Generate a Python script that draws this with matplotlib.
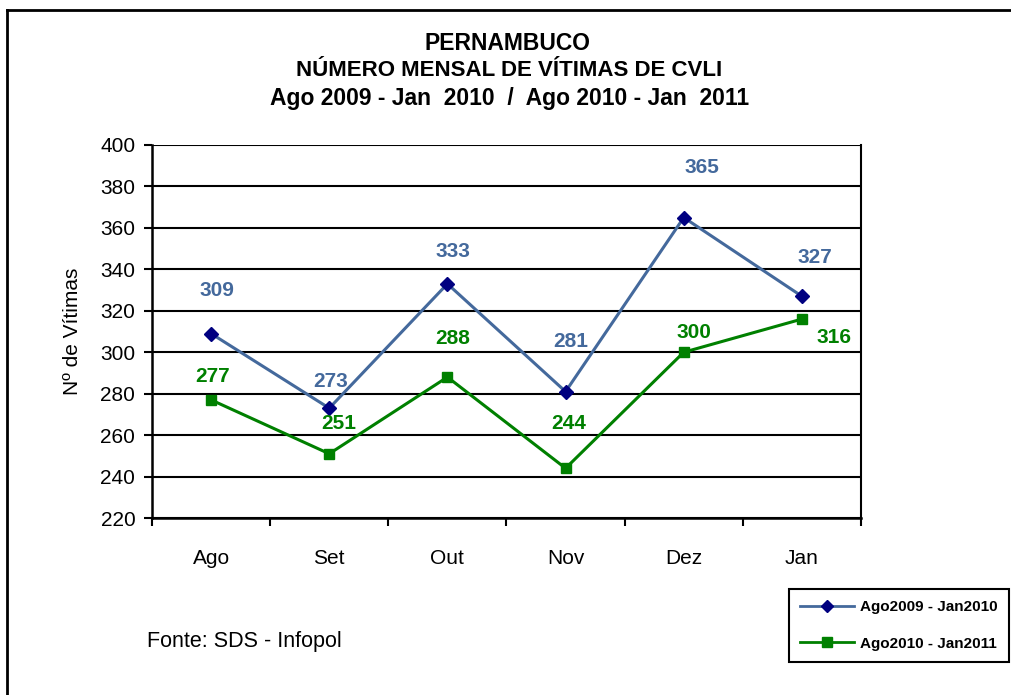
import numpy as np
import matplotlib.pyplot as plt
from matplotlib.lines import Line2D

plt.rcParams['font.family'] = ['Liberation Sans', 'DejaVu Sans']

# dados
meses = ["Ago", "Set", "Out", "Nov", "Dez", "Jan"]
serie_2009 = [309, 273, 333, 281, 365, 327]
serie_2010 = [277, 251, 288, 244, 300, 316]
nome_2009 = "Ago2009 - Jan2010"
nome_2010 = "Ago2010 - Jan2011"

# deslocamento dos rótulos (pontos)
off_2009 = [(4, 31), (1, 19), (4, 23), (4, 36), (13, 36), (9, 28)]
off_2010 = [(1, 17), (7, 22), (4, 28), (2, 32), (7, 14), (23, -13)]

cor_azul = "#44699c"
cor_azul_txt = "#44699c"
cor_navy = "#000080"
cor_verde = "#008000"

fig = plt.figure(figsize=(10.11, 6.95), dpi=100)
ax = fig.add_axes([152 / 1011, 1 - 518 / 695, (861 - 152) / 1011, (518 - 145) / 695])

x = np.arange(len(meses))
ax.plot(x, serie_2009, color=cor_azul, lw=2.2, marker="D", ms=7,
        mfc=cor_navy, mec=cor_navy, zorder=3)
ax.plot(x, serie_2010, color=cor_verde, lw=2.2, marker="s", ms=7,
        mfc=cor_verde, mec=cor_verde, zorder=3)

for i in range(len(x)):
    ax.annotate(str(serie_2009[i]), (x[i], serie_2009[i]), xytext=off_2009[i],
                textcoords="offset points", ha="center", va="center",
                color=cor_azul_txt, fontsize=15, fontweight="bold")
    ax.annotate(str(serie_2010[i]), (x[i], serie_2010[i]), xytext=off_2010[i],
                textcoords="offset points", ha="center", va="center",
                color=cor_verde, fontsize=15, fontweight="bold")

ax.set_ylim(220, 400)
ax.set_yticks(np.arange(220, 401, 20))
ax.set_xlim(-0.5, len(meses) - 0.5)
ax.set_xticks(x)
ax.set_xticklabels(meses)
ax.set_xticks(np.arange(-0.5, len(meses), 1), minor=True)
ax.tick_params(axis="x", which="major", length=0, pad=22, labelsize=15)
ax.tick_params(axis="x", which="minor", length=6, width=1.5, direction="out")
ax.tick_params(axis="y", length=6, width=1.5, labelsize=15, pad=6)
ax.grid(axis="y", color="black", lw=1.5)
ax.set_axisbelow(True)
ax.spines["top"].set_visible(False)
for s in ["left", "bottom", "right"]:
    ax.spines[s].set_linewidth(1.8)
ax.spines["right"].set_linewidth(1.5)
ax.set_ylabel("Nº de Vítimas", fontsize=15, labelpad=13)

# títulos
fig.text(507 / 1011, 1 - 44 / 695, "PERNAMBUCO", ha="center", va="center",
         fontsize=16.5, fontweight="bold")
fig.text(509 / 1011, 1 - 70 / 695, "NÚMERO MENSAL DE VÍTIMAS DE CVLI", ha="center",
         va="center", fontsize=16, fontweight="bold")
fig.text(510 / 1011, 1 - 98 / 695, "Ago 2009 - Jan  2010  /  Ago 2010 - Jan  2011",
         ha="center", va="center", fontsize=16.5, fontweight="bold")

fig.text(147 / 1011, 1 - 641 / 695, "Fonte: SDS - Infopol", ha="left", va="center",
         fontsize=15.5)

# moldura externa
fig.add_artist(Line2D([7 / 1011, 7 / 1011], [0, 1 - 10 / 695], color="black", lw=2,
                      transform=fig.transFigure))
fig.add_artist(Line2D([7 / 1011, 1], [1 - 10 / 695, 1 - 10 / 695], color="black", lw=2,
                      transform=fig.transFigure))

# legenda
h1 = Line2D([], [], color=cor_azul, lw=2, marker="D", ms=6, mfc=cor_navy, mec=cor_navy)
h2 = Line2D([], [], color=cor_verde, lw=2, marker="s", ms=7, mfc=cor_verde, mec=cor_verde)
leg = fig.legend([h1, h2], [nome_2009, nome_2010], loc="upper left",
                 bbox_to_anchor=(789 / 1011, 1 - 589 / 695), fancybox=False,
                 edgecolor="black", framealpha=1, handlelength=3.5,
                 labelspacing=1.45, borderpad=0.75, handletextpad=0.4,
                 borderaxespad=0, prop={"size": 11, "weight": "bold"})
leg.get_frame().set_linewidth(1.5)

fig.savefig("out.png", dpi=100)
